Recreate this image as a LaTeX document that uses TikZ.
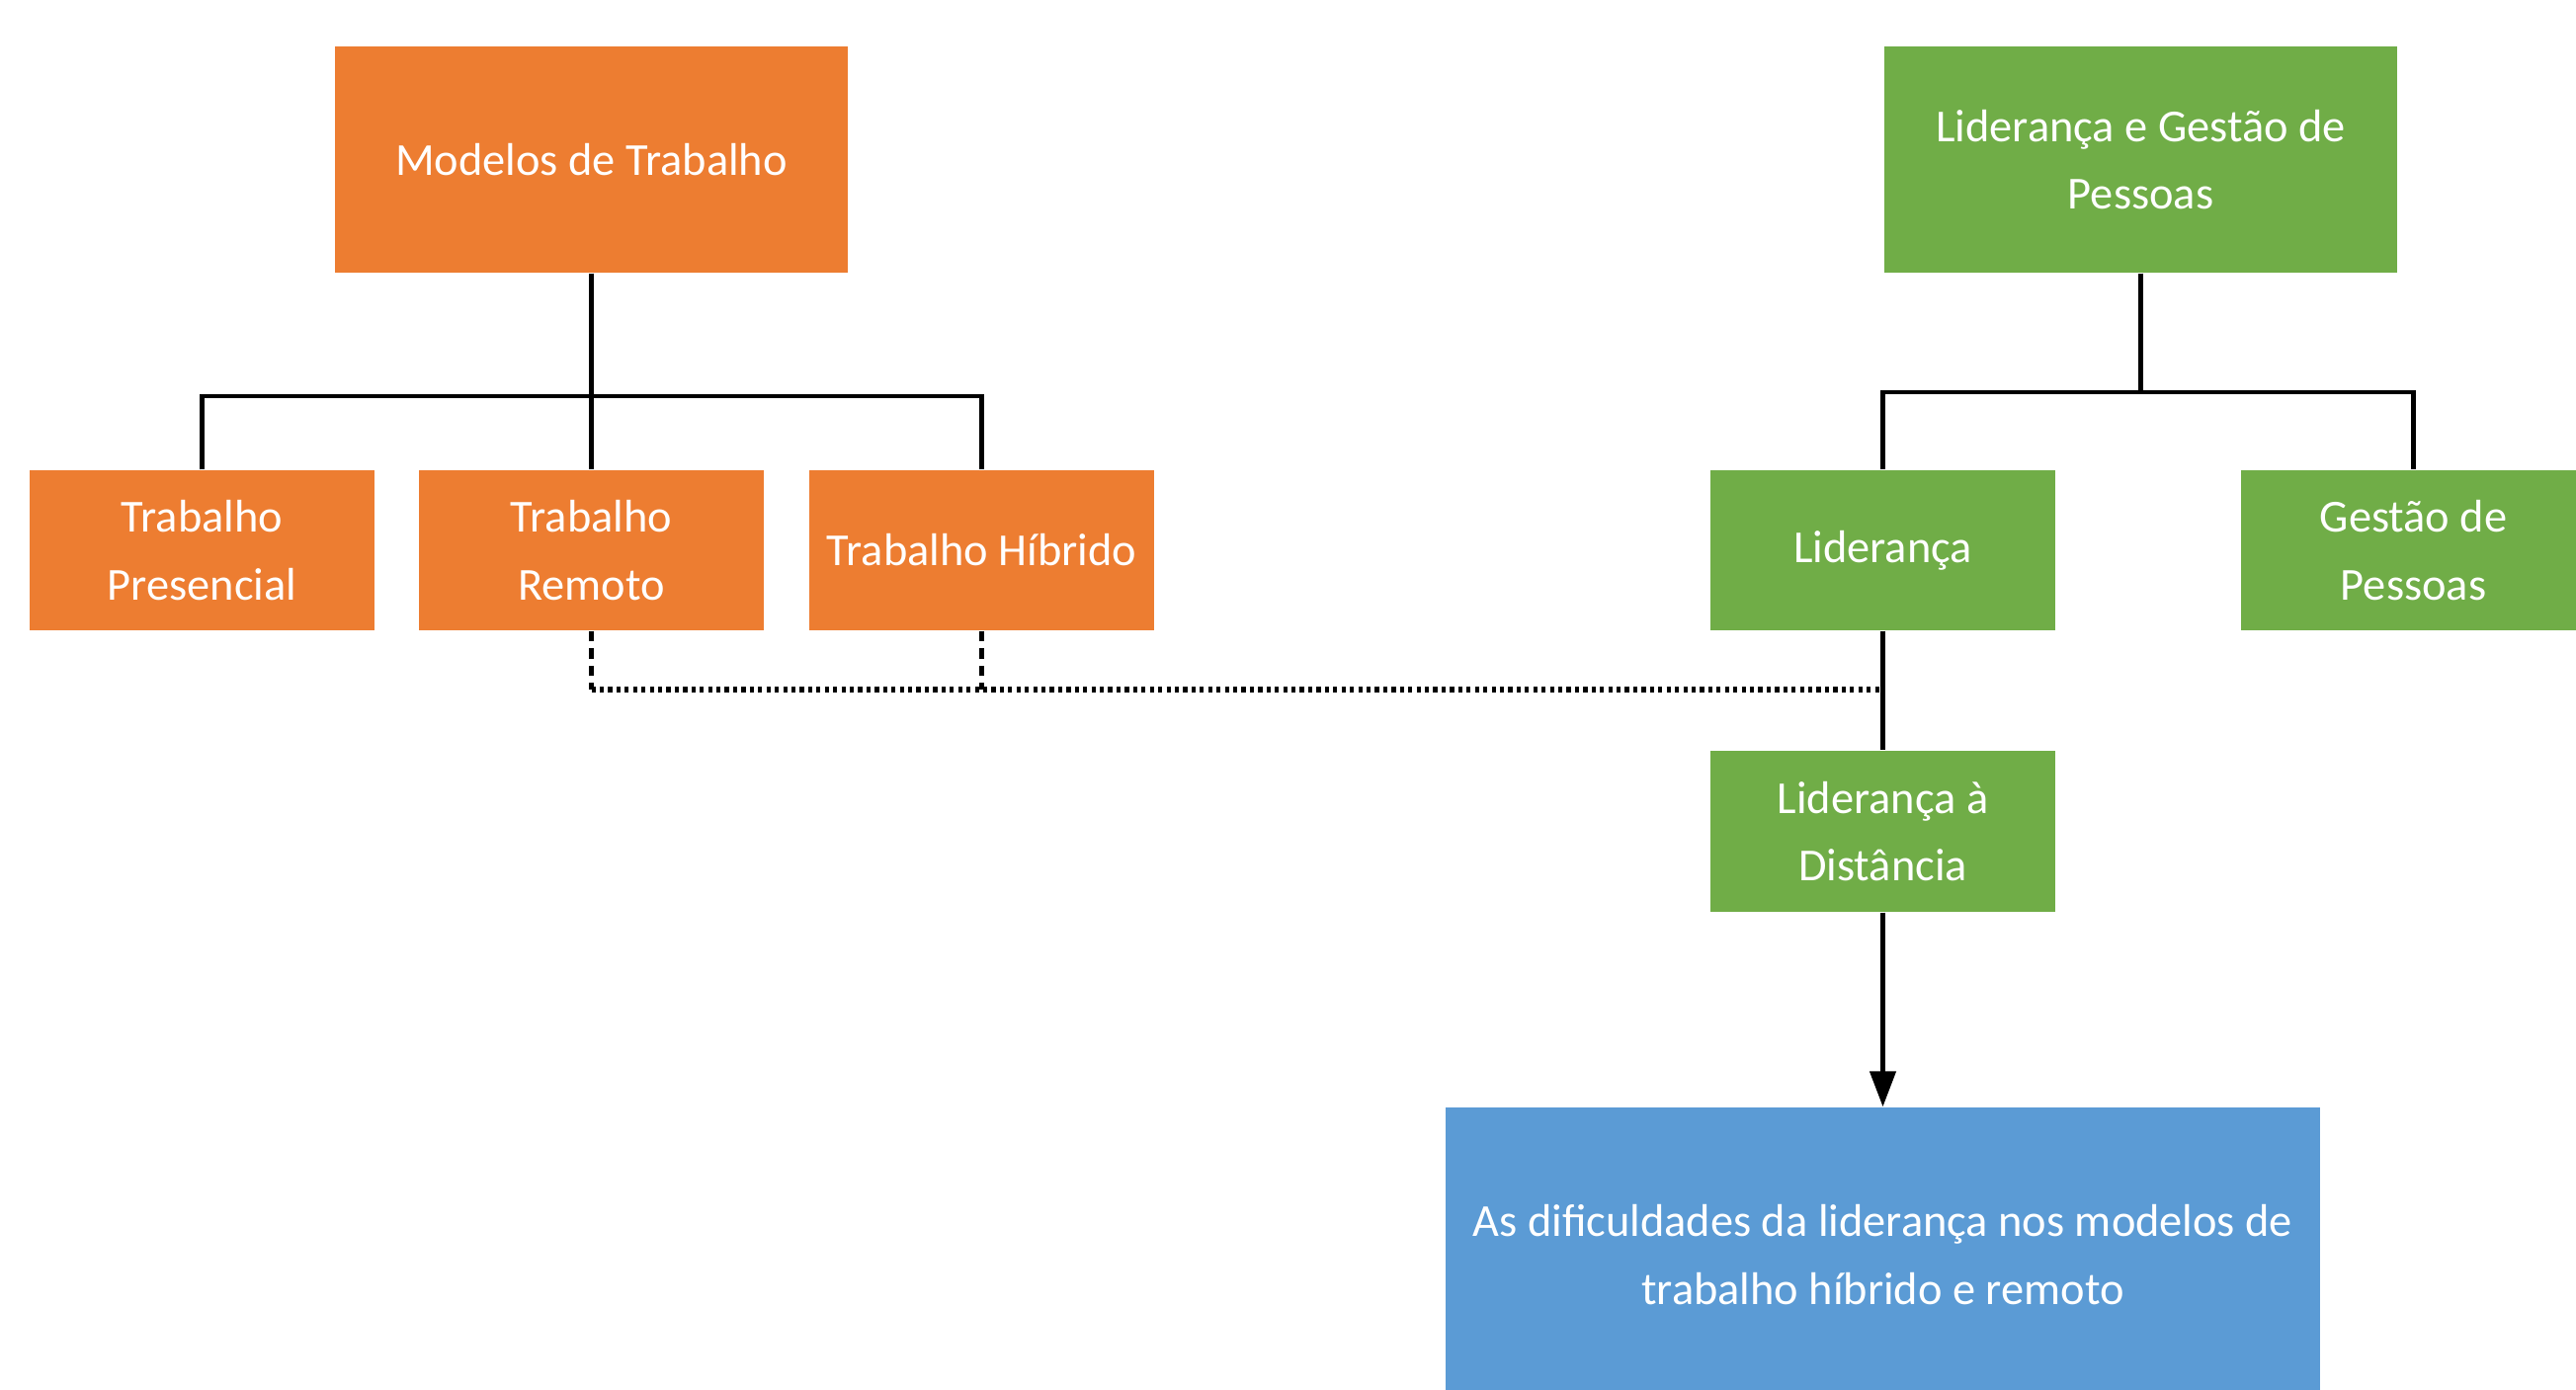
\documentclass[tikz,border=0pt]{standalone}
\usepackage{fontspec}
\setmainfont{Carlito}
\usetikzlibrary{arrows.meta}

\definecolor{laranja}{HTML}{ED7D31}
\definecolor{verde}{HTML}{70AD47}
\definecolor{azul}{HTML}{5B9BD5}

\tikzset{
    caixa/.style={rectangle, inner sep=0pt, align=center, text=white,
        font=\fontsize{13.2}{19.5}\selectfont},
    topo/.style={caixa, minimum width=5.19cm, minimum height=2.29cm},
    ramo/.style={caixa, minimum width=3.49cm, minimum height=1.62cm},
    liga/.style={line width=1.3pt},
    tracejado/.style={line width=1.3pt, dash pattern=on 3pt off 2pt},
    pontilhado/.style={line width=1.5pt, dash pattern=on 1.2pt off 1.2pt}
}

\begin{document}
\begin{tikzpicture}
    \clip (0,0) rectangle (26.07,-14.07);

    % --- Parte A: Modelos de Trabalho ---
    \node[topo, fill=laranja] (modelos) at (5.985,-1.615) {Modelos de Trabalho};
    \node[ramo, fill=laranja] (presencial) at (2.045,-5.57) {Trabalho\\Presencial};
    \node[ramo, fill=laranja] (remoto) at (5.985,-5.57) {Trabalho\\Remoto};
    \node[ramo, fill=laranja] (hibrido) at (9.935,-5.57) {Trabalho Híbrido};

    % barramento dos modelos
    \coordinate (busA) at (5.985,-4.01);
    \draw[liga] (modelos.south) -- (remoto.north);
    \draw[liga] (presencial.north) -- (presencial.north |- busA) -- (hibrido.north |- busA) -- (hibrido.north);

    % --- Parte B: Liderança e Gestão de Pessoas ---
    \node[topo, fill=verde] (lgp) at (21.665,-1.615) {Liderança e Gestão de\\Pessoas};
    \node[ramo, fill=verde] (lideranca) at (19.055,-5.57) {Liderança};
    \node[ramo, fill=verde] (gestao) at (24.425,-5.57) {Gestão de\\Pessoas};
    \node[ramo, fill=verde, minimum height=1.63cm] (distancia) at (19.055,-8.415) {Liderança à\\Distância};

    % barramento da liderança
    \coordinate (busB) at (21.665,-3.97);
    \draw[liga] (lgp.south) -- (busB);
    \draw[liga] (lideranca.north) -- (lideranca.north |- busB) -- (gestao.north |- busB) -- (gestao.north);
    \draw[liga] (lideranca.south) -- (distancia.north);

    % --- Ligação pontilhada ---
    \coordinate (juncao) at (19.055,-6.98);
    \draw[tracejado] (remoto.south) -- (remoto.south |- juncao);
    \draw[tracejado] (hibrido.south) -- (hibrido.south |- juncao);
    \draw[pontilhado] (remoto.south |- juncao) -- (juncao);

    % --- Conclusão ---
    \node[caixa, fill=azul, minimum width=8.85cm, minimum height=2.98cm] (dificuldades) at (19.055,-12.70)
        {As dificuldades da liderança nos modelos de\\trabalho híbrido e remoto};
    \draw[liga, -{Triangle[length=0.36cm, width=0.26cm]}] (distancia.south) -- (dificuldades.north);
\end{tikzpicture}
\end{document}
